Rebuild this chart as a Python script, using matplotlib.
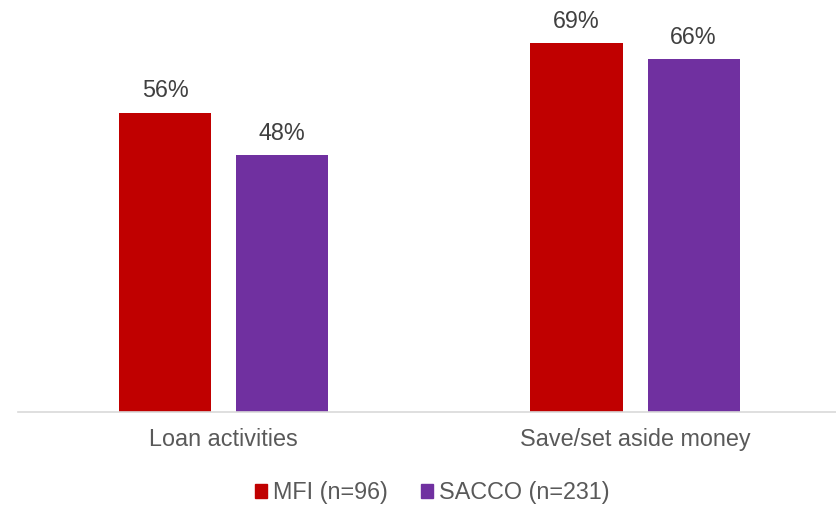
import numpy as np
import matplotlib.pyplot as plt
from matplotlib.patches import Patch

# Data
categories = ['Loan activities', 'Save/set aside money']
series_names = ['MFI (n=96)', 'SACCO (n=231)']
mfi_values = [0.56, 0.69]
sacco_values = [0.48, 0.66]

colors = ['#C00000', '#7030A0']

plt.rcParams['font.family'] = ['Liberation Sans', 'DejaVu Sans']
FS = 16.8

W, H = 836, 505
fig = plt.figure(figsize=(W / 100, H / 100), dpi=100)
ax = fig.add_axes([18 / W, 1 - 412 / H, (W - 18) / W, 412 / H])

x = np.arange(len(categories))
bar_w = 0.2236
offset = 0.1422

for vals, col, off in zip([mfi_values, sacco_values], colors, [-offset, offset]):
    bars = ax.bar(x + off, vals, width=bar_w, color=col, zorder=2)
    for b, v in zip(bars, vals):
        ax.annotate('{:.0f}%'.format(v * 100),
                    xy=(b.get_x() + b.get_width() / 2, b.get_height()),
                    xytext=(0, 11), textcoords='offset points',
                    ha='center', va='baseline', fontsize=FS, color='#404040')

ax.set_xlim(-0.4994, 1.4884)
ax.set_ylim(0, 412 / 534.5)

for s in ['top', 'right', 'left']:
    ax.spines[s].set_visible(False)
ax.spines['bottom'].set_color('#D9D9D9')
ax.spines['bottom'].set_linewidth(1.2)
ax.set_yticks([])
ax.set_xticks(x)
ax.set_xticklabels(categories, fontsize=FS, color='#595959')
ax.tick_params(axis='x', length=0, pad=11.5)

handles = [Patch(color=c) for c in colors]
fig.legend(handles, series_names, loc='center', ncol=2, frameon=False,
           bbox_to_anchor=(432.5 / W, 1 - 493 / H), fontsize=FS,
           labelcolor='#595959', handlelength=0.515, handleheight=0.515,
           handletextpad=0.26, columnspacing=1.42, borderpad=0)

fig.savefig('out.png', dpi=100)
